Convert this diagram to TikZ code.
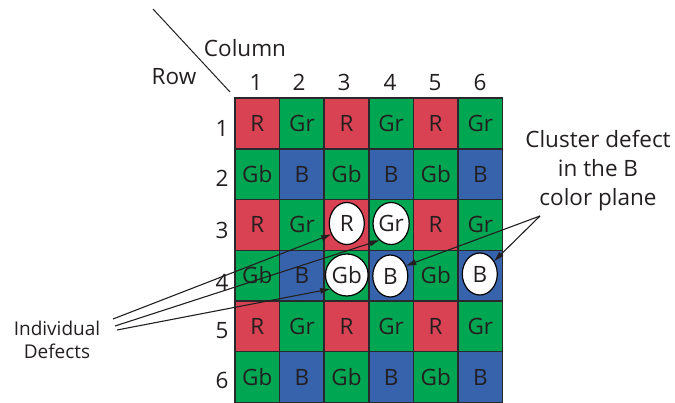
\documentclass[tikz,border=0pt]{standalone}
\usepackage{fontspec}
\setmainfont{Open Sans}
\usetikzlibrary{shapes.geometric,arrows.meta}
\definecolor{cR}{RGB}{217,66,82}
\definecolor{cG}{RGB}{0,166,81}
\definecolor{cB}{RGB}{55,99,172}
\definecolor{ink}{RGB}{35,31,32}
\definecolor{gridc}{RGB}{40,40,45}
\tikzset{
  big/.style={font=\fontsize{22.5}{26}\selectfont},
  cell/.style={rectangle, draw=gridc, line width=1.5pt, minimum width=44.6pt, minimum height=50.7pt, inner sep=0pt,
    big, text=ink, text height=16pt, text depth=0pt},
  rc/.style={cell, fill=cR}, gc/.style={cell, fill=cG}, bc/.style={cell, fill=cB},
  defect/.style={ellipse, draw=black, fill=white, line width=1.2pt, minimum width=35pt, minimum height=42pt, inner sep=0pt,
    big, text=ink, text height=16pt, text depth=0pt},
  lbl/.style={big, text=ink, inner sep=0pt, text height=16pt, text depth=0pt},
  note/.style={align=center, text=ink, inner sep=0pt},
  pointer/.style={draw=ink, line width=1.1pt, -{Triangle[length=10pt,width=5.5pt]}},
}
\begin{document}
\begin{tikzpicture}[x=1pt,y=-1pt]
\useasboundingbox (0,0) rectangle (675,402);
\begin{scope}
\clip (0,0) rectangle (675,402);
% row 1
\node[rc] (c11) at (257.3,123.5) {R};
\node[gc] (c21) at (301.9,123.5) {Gr};
\node[rc] (c31) at (346.5,123.5) {R};
\node[gc] (c41) at (391.1,123.5) {Gr};
\node[rc] (c51) at (435.7,123.5) {R};
\node[gc] (c61) at (480.3,123.5) {Gr};
% row 2
\node[gc] (c12) at (257.3,174.2) {Gb};
\node[bc] (c22) at (301.9,174.2) {B};
\node[gc] (c32) at (346.5,174.2) {Gb};
\node[bc] (c42) at (391.1,174.2) {B};
\node[gc] (c52) at (435.7,174.2) {Gb};
\node[bc] (c62) at (480.3,174.2) {B};
% row 3
\node[rc] (c13) at (257.3,224.9) {R};
\node[gc] (c23) at (301.9,224.9) {Gr};
\node[rc] (c33) at (346.5,224.9) {};
\node[gc] (c43) at (391.1,224.9) {};
\node[rc] (c53) at (435.7,224.9) {R};
\node[gc] (c63) at (480.3,224.9) {Gr};
% row 4
\node[gc] (c14) at (257.3,275.6) {Gb};
\node[bc] (c24) at (301.9,275.6) {B};
\node[gc] (c34) at (346.5,275.6) {};
\node[bc] (c44) at (391.1,275.6) {};
\node[gc] (c54) at (435.7,275.6) {Gb};
\node[bc] (c64) at (480.3,275.6) {};
% row 5
\node[rc] (c15) at (257.3,326.3) {R};
\node[gc] (c25) at (301.9,326.3) {Gr};
\node[rc] (c35) at (346.5,326.3) {R};
\node[gc] (c45) at (391.1,326.3) {Gr};
\node[rc] (c55) at (435.7,326.3) {R};
\node[gc] (c65) at (480.3,326.3) {Gr};
% row 6
\node[gc] (c16) at (257.3,377.0) {Gb};
\node[bc] (c26) at (301.9,377.0) {B};
\node[gc] (c36) at (346.5,377.0) {Gb};
\node[bc] (c46) at (391.1,377.0) {B};
\node[gc] (c56) at (435.7,377.0) {Gb};
\node[bc] (c66) at (480.3,377.0) {B};
\end{scope}
% defects
\node[defect] (e33) at (346.8,223.5) {R};
\node[defect] (e43) at (391.1,223.5) {Gr};
\node[defect] (e34) at (346.8,275.0) {Gb};
\node[defect] (e44) at (390.3,276.0) {B};
\node[defect] (e64) at (479.8,274.0) {B};
% headers
\node[lbl] (h1) at (256,82) {1};
\node[lbl] (h2) at (299,82) {2};
\node[lbl] (h3) at (344,82) {3};
\node[lbl] (h4) at (390,82) {4};
\node[lbl] (h5) at (435,82) {5};
\node[lbl] (h6) at (480,82) {6};
\node[lbl] (r1) at (222,128) {1};
\node[lbl] (r2) at (222,178) {2};
\node[lbl] (r3) at (222,230) {3};
\node[lbl] (r4) at (222,282) {4};
\node[lbl] (r5) at (222,330) {5};
\node[lbl] (r6) at (222,380) {6};
\node[lbl] (colt) at (245,48) {Column};
\node[lbl] (rowt) at (174,76) {Row};
\coordinate (d1) at (153,9);
\coordinate (d2) at (230,92);
\draw[draw=ink, line width=1pt] (d1) -- (d2);
% notes
\node[note, font=\fontsize{19}{23}\selectfont] (ind) at (57,340) {Individual\\Defects};
\node[note, font=\fontsize{22.5}{29}\selectfont] (clu) at (598,171) {Cluster defect\\in the B\\color plane};
\coordinate (i1) at (113,319);
\coordinate (i2) at (115,326);
\coordinate (i3) at (117,330);
\coordinate (k0) at (540,216);
\draw[pointer] (i1) -- (e33.215);
\draw[pointer] (i2) -- (e43.235);
\draw[pointer] (i3) -- (e34.220);
\draw[pointer] (k0) -- (e44.33);
\draw[pointer] (k0) -- (e64.42);
\end{tikzpicture}
\end{document}
